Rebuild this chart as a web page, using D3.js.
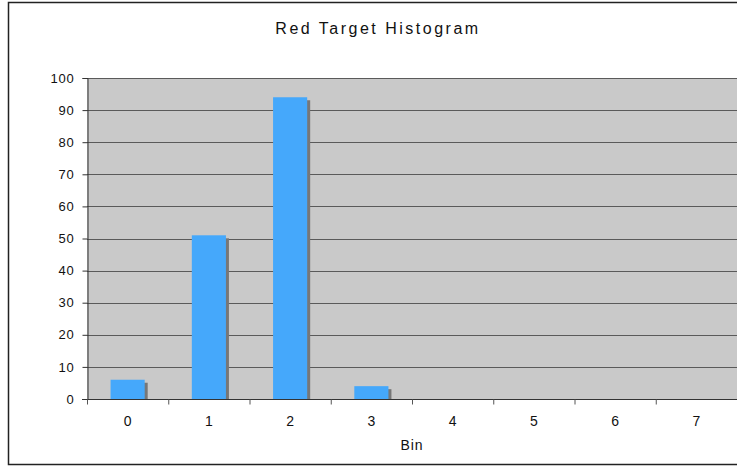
<!DOCTYPE html>
<html>
<head>
<meta charset="utf-8">
<script src="https://cdn.jsdelivr.net/npm/d3@7"></script>
<style>
  body { margin: 0; background: #fff; }
  text { font-family: "Liberation Sans", Arial, sans-serif; }
</style>
</head>
<body>
<div id="chart"></div>
<script>
const width = 737,
  height = 467,
  margin = { top: 78, bottom: 68, left: 87, right: 0 };

/* DATA */
const bins = ["0", "1", "2", "3", "4", "5", "6", "7"];
const counts = [6, 51, 94, 4, 0, 0, 0, 0];
const yTicks = [0, 10, 20, 30, 40, 50, 60, 70, 80, 90, 100];

const svg = d3.select("#chart")
  .append("svg")
  .attr("width", width)
  .attr("height", height);

// outer frame
svg.append("rect")
  .attr("x", 8.5).attr("y", 2.5)
  .attr("width", width).attr("height", 462)
  .attr("fill", "white")
  .attr("stroke", "#222")
  .attr("stroke-width", 1.5);

/* SCALES */
const xScale = d3.scaleBand()
  .domain(bins)
  .range([margin.left, width - margin.right])
  .paddingInner(0.58)
  .paddingOuter(0.29);

const yScale = d3.scaleLinear()
  .domain([0, 100])
  .range([height - margin.bottom, margin.top]);

// plot background
svg.append("rect")
  .attr("x", margin.left)
  .attr("y", margin.top)
  .attr("width", width - margin.right - margin.left)
  .attr("height", yScale(0) - margin.top)
  .attr("fill", "#c9c9c9");

// gridlines
svg.append("g")
  .selectAll("line")
  .data(yTicks.slice(1))
  .join("line")
  .attr("x1", margin.left)
  .attr("x2", width - margin.right)
  .attr("y1", d => Math.round(yScale(d)) + 0.5)
  .attr("y2", d => Math.round(yScale(d)) + 0.5)
  .attr("stroke", "#5a5a5a")
  .attr("stroke-width", 1);

const barData = counts.map((c, i) => ({ bin: bins[i], count: c })).filter(d => d.count > 0);

// bar shadows
svg.append("g")
  .selectAll("rect")
  .data(barData)
  .join("rect")
  .attr("x", d => xScale(d.bin) + 3)
  .attr("y", d => yScale(d.count) + 3)
  .attr("width", xScale.bandwidth())
  .attr("height", d => yScale(0) - yScale(d.count) - 3)
  .attr("fill", "#777");

// bars
svg.append("g")
  .selectAll("rect")
  .data(barData)
  .join("rect")
  .attr("x", d => xScale(d.bin))
  .attr("y", d => yScale(d.count))
  .attr("width", xScale.bandwidth())
  .attr("height", d => yScale(0) - yScale(d.count))
  .attr("fill", "#45a8fb");

/* AXES */
const yAxis = d3.axisLeft(yScale)
  .tickValues(yTicks)
  .tickSize(5)
  .tickPadding(8);

const yAxisGroup = svg.append("g")
  .attr("transform", `translate(${margin.left + 0.5}, 0)`)
  .call(yAxis);
yAxisGroup.select(".domain").attr("stroke", "#333");
yAxisGroup.selectAll(".tick line").attr("stroke", "#333");
yAxisGroup.selectAll(".tick text")
  .attr("font-size", 13)
  .attr("letter-spacing", "0.8px")
  .attr("fill", "#111");

const xAxisGroup = svg.append("g")
  .attr("transform", `translate(0, ${yScale(0) + 0.5})`);
xAxisGroup.append("line")
  .attr("x1", margin.left - 5)
  .attr("x2", width - margin.right)
  .attr("stroke", "#333")
  .attr("stroke-width", 1.2);

const slot = (width - margin.right - margin.left) / bins.length;
xAxisGroup.selectAll(".xtick")
  .data(d3.range(bins.length))
  .join("line")
  .attr("class", "xtick")
  .attr("x1", i => margin.left + 0.5 + i * slot)
  .attr("x2", i => margin.left + 0.5 + i * slot)
  .attr("y1", 0)
  .attr("y2", 5)
  .attr("stroke", "#555");

xAxisGroup.selectAll(".xlabel")
  .data(bins)
  .join("text")
  .attr("class", "xlabel")
  .attr("x", d => xScale(d) + xScale.bandwidth() / 2)
  .attr("y", 26)
  .attr("text-anchor", "middle")
  .attr("font-size", 14)
  .attr("fill", "#111")
  .text(d => d);

svg.append("text")
  .attr("x", (margin.left + width - margin.right) / 2)
  .attr("y", 450)
  .attr("text-anchor", "middle")
  .attr("font-size", 14)
  .attr("letter-spacing", "1px")
  .attr("fill", "#111")
  .text("Bin");

// title
svg.append("text")
  .attr("x", 378)
  .attr("y", 34)
  .attr("text-anchor", "middle")
  .attr("font-size", 16)
  .attr("letter-spacing", "2.5px")
  .attr("fill", "#111")
  .text("Red Target Histogram");
</script>
</body>
</html>
